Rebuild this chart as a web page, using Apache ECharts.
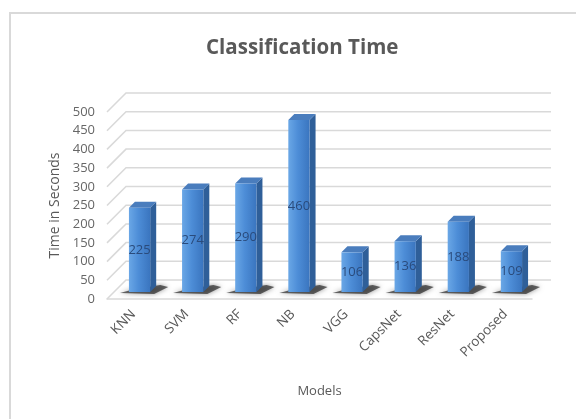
<!DOCTYPE html>
<html>
<head>
<meta charset="utf-8">
<style>
  html, body { margin: 0; padding: 0; background: #fff; }
  #chart { width: 576px; height: 419px; }
</style>
<script src="https://cdn.jsdelivr.net/npm/echarts@6/dist/echarts.min.js"></script>
</head>
<body>
<div id="chart"></div>
<script>
// Classification time per model (seconds)
const models = ['KNN', 'SVM', 'RF', 'NB', 'VGG', 'CapsNet', 'ResNet', 'Proposed'];
const timeSeconds = [225, 274, 290, 460, 106, 136, 188, 109];
const yTicks = [0, 50, 100, 150, 200, 250, 300, 350, 400, 450, 500];

// Oblique depth of the plot box (walls) and of the bars inside it
const WALL_DX = 19, WALL_DY = -19;
const BAR_SHIFT_X = 6, BAR_SHIFT_Y = -7;
const BAR_DEPTH_X = 6, BAR_DEPTH_Y = -6;
const GRID_COLOR = '#d9d9d9';

const chart = echarts.init(document.getElementById('chart'), null, { renderer: 'canvas' });

function renderWall(params, api) {
  const cs = params.coordSys;
  const v = api.value(0);
  const y = api.coord([0, v])[1];
  const x0 = cs.x, x1 = cs.x + cs.width;
  return {
    type: 'polyline',
    shape: {
      points: [
        [x0, y],
        [x0 + WALL_DX, y + WALL_DY],
        [x1 + WALL_DX, y + WALL_DY]
      ]
    },
    style: { stroke: GRID_COLOR, lineWidth: 1.5, fill: null },
    silent: true
  };
}

function renderBar(params, api) {
  const idx = api.value(0);
  const val = api.value(1);
  const top = api.coord([idx, val]);
  const base = api.coord([idx, 0]);
  const band = api.size([1, 0])[0];
  const w = band * 0.4;
  const xl = top[0] - w / 2 + BAR_SHIFT_X;
  const xr = xl + w;
  const yt = top[1] + BAR_SHIFT_Y;
  const yb = base[1] + BAR_SHIFT_Y;
  const dx = BAR_DEPTH_X, dy = BAR_DEPTH_Y;
  return {
    type: 'group',
    children: [
      {
        type: 'polygon',
        shape: {
          points: [
            [xl - 9, yb + 1], [xr + 4, yb + 2], [xr + dx + 12, yb + dy + 1],
            [xr + dx + 4, yb + dy - 1], [xl + 2, yb - 2]
          ]
        },
        style: {
          fill: 'rgba(40,40,40,0.7)',
          shadowBlur: 5,
          shadowColor: 'rgba(0,0,0,0.6)'
        },
        silent: true
      },
      {
        type: 'polygon',
        shape: { points: [[xr, yt], [xr + dx, yt + dy], [xr + dx, yb + dy], [xr, yb]] },
        style: { fill: '#2f5f99' }
      },
      {
        type: 'polygon',
        shape: { points: [[xl, yt], [xl + dx, yt + dy], [xr + dx, yt + dy], [xr, yt]] },
        style: { fill: '#4a7dbd' }
      },
      {
        type: 'rect',
        shape: { x: xl, y: yt, width: w, height: yb - yt },
        style: {
          fill: new echarts.graphic.LinearGradient(0, 0, 1, 0, [
            { offset: 0, color: '#6aa7e6' },
            { offset: 0.45, color: '#4d8dd7' },
            { offset: 1, color: '#3a75bf' }
          ])
        }
      },
      {
        type: 'text',
        style: {
          text: String(val),
          x: (xl + xr) / 2,
          y: (yt + yb) / 2,
          align: 'center',
          verticalAlign: 'middle',
          fill: '#2a4b7c',
          font: '13px "Open Sans", sans-serif'
        }
      }
    ]
  };
}

chart.setOption({
  animation: false,
  backgroundColor: '#ffffff',
  graphic: [
    {
      type: 'rect',
      shape: { x: 10, y: 13, width: 620, height: 460 },
      style: { fill: null, stroke: '#d9d9d9', lineWidth: 2 },
      silent: true
    }
  ],
  title: {
    text: 'Classification Time',
    left: 201,
    top: 33,
    textStyle: {
      fontFamily: '"Open Sans", sans-serif',
      fontSize: 20.5,
      fontWeight: 'bold',
      color: '#595959'
    }
  },
  grid: { left: 107, top: 112, width: 425, height: 187 },
  xAxis: {
    type: 'category',
    data: models,
    name: 'Models',
    nameLocation: 'middle',
    nameGap: 86,
    nameTextStyle: { fontFamily: '"Open Sans", sans-serif', fontSize: 13, color: '#595959' },
    axisLine: { show: true, lineStyle: { color: GRID_COLOR, width: 1.5 } },
    axisTick: { show: false },
    axisLabel: {
      rotate: 45,
      margin: 13,
      interval: 0,
      fontFamily: '"Open Sans", sans-serif',
      fontSize: 13.5,
      color: '#595959'
    }
  },
  yAxis: {
    type: 'value',
    min: 0,
    max: 500,
    interval: 50,
    name: 'Time in Seconds',
    nameLocation: 'middle',
    nameGap: 42,
    nameTextStyle: { fontFamily: '"Open Sans", sans-serif', fontSize: 14, color: '#595959' },
    axisLine: { show: false },
    axisTick: { show: false },
    splitLine: { show: false },
    axisLabel: {
      margin: 12,
      fontFamily: '"Open Sans", sans-serif',
      fontSize: 13,
      color: '#666666'
    }
  },
  series: [
    {
      type: 'custom',
      renderItem: renderWall,
      data: yTicks.map(v => [v]),
      encode: { y: 0 },
      silent: true,
      z: 1
    },
    {
      type: 'custom',
      renderItem: renderBar,
      data: timeSeconds.map((v, i) => [i, v]),
      encode: { x: 0, y: 1 },
      z: 2
    }
  ]
});
</script>
</body>
</html>
